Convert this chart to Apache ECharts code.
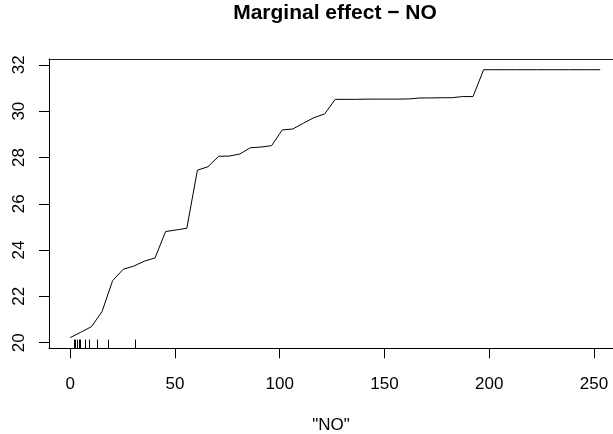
<!DOCTYPE html>
<html>
<head>
<meta charset="utf-8">
<script src="https://cdn.jsdelivr.net/npm/echarts@6/dist/echarts.min.js"></script>
<style>
  html, body { margin: 0; padding: 0; background: #fff; }
  #chart { width: 613px; height: 434px; }
</style>
</head>
<body>
<div id="chart"></div>
<script>
// Partial dependence of the response on NO
const noGrid = [0, 5.06, 10.12, 15.18, 20.24, 25.3, 30.36, 35.42, 40.48, 45.54,
  50.6, 55.66, 60.72, 65.78, 70.84, 75.9, 80.96, 86.02, 91.08, 96.14,
  101.2, 106.26, 111.32, 116.38, 121.44, 126.5, 131.56, 136.62, 141.68, 146.74,
  151.8, 156.86, 161.92, 166.98, 172.04, 177.1, 182.16, 187.22, 192.28, 197.34,
  202.4, 207.46, 212.52, 217.58, 222.64, 227.7, 232.76, 237.82, 242.88, 247.94, 253];
const effect = [20.22, 20.45, 20.69, 21.34, 22.68, 23.17, 23.31, 23.52, 23.66, 24.80,
  24.87, 24.94, 27.45, 27.60, 28.05, 28.06, 28.15, 28.42, 28.45, 28.51,
  29.19, 29.23, 29.48, 29.72, 29.88, 30.51, 30.51, 30.51, 30.52, 30.52,
  30.52, 30.52, 30.53, 30.57, 30.57, 30.58, 30.58, 30.63, 30.63, 31.79,
  31.79, 31.79, 31.79, 31.79, 31.79, 31.79, 31.79, 31.79, 31.79, 31.79, 31.79];
// Deciles of NO shown as a rug
const rugValues = [1.67, 2.48, 3.24, 4.01, 4.87, 6.92, 9.06, 12.88, 18.03, 30.87];
const xTicks = [0, 50, 100, 150, 200, 250];
const yTicks = [20, 22, 24, 26, 28, 30, 32];

const FONT = 'Liberation Sans, Arial, Helvetica, sans-serif';

// R-style 4% padding around the data range
function padded(vals) {
  const lo = Math.min(...vals), hi = Math.max(...vals);
  const d = (hi - lo) * 0.04;
  return [lo - d, hi + d];
}
const [xMin] = padded(noGrid);
const [yMin, yMax] = padded(effect);
// the plot region runs past the right edge of the canvas; show up to here
const xVisibleMax = 259.1;

const chart = echarts.init(document.getElementById('chart'), null, { renderer: 'canvas' });

const plainAxis = {
  axisTick: { show: false },
  axisLabel: { show: false },
  splitLine: { show: false }
};

chart.setOption({
  animation: false,
  backgroundColor: '#ffffff',
  graphic: [{
    type: 'text',
    x: 335,
    y: 3,
    style: {
      text: 'Marginal effect \u2212 NO',
      font: 'bold 21px ' + FONT,
      fill: '#000',
      align: 'center'
    }
  }],
  grid: { left: 49, top: 59, right: 0, bottom: 85.7, outerBoundsMode: 'none', containLabel: false },
  xAxis: [{
    type: 'value',
    min: xMin,
    max: xVisibleMax,
    name: '"NO"',
    nameLocation: 'middle',
    nameGap: 69,
    nameTextStyle: { fontFamily: FONT, fontSize: 17, color: '#000' },
    axisLine: { show: true, onZero: false, lineStyle: { color: '#000', width: 1 } },
    axisTick: { show: true, length: 10, customValues: xTicks, lineStyle: { color: '#000' } },
    axisLabel: { customValues: xTicks, margin: 28, fontFamily: FONT, fontSize: 17, color: '#000' },
    splitLine: { show: false }
  }, Object.assign({
    type: 'value',
    position: 'top',
    min: xMin,
    max: xVisibleMax,
    axisLine: { show: true, onZero: false, lineStyle: { color: '#222', width: 1 } }
  }, plainAxis)],
  yAxis: {
    type: 'value',
    min: yMin,
    max: yMax,
    axisLine: { show: true, onZero: false, lineStyle: { color: '#000', width: 1 } },
    axisTick: { show: true, length: 10, customValues: yTicks, lineStyle: { color: '#000' } },
    axisLabel: { customValues: yTicks, rotate: 90, margin: 21, fontFamily: FONT, fontSize: 17, color: '#000' },
    splitLine: { show: false }
  },
  series: [
    {
      type: 'line',
      data: noGrid.map((x, i) => [x, effect[i]]),
      symbol: 'none',
      lineStyle: { color: '#000', width: 1 },
      silent: true
    },
    {
      type: 'custom',
      data: rugValues.map(v => [v]),
      silent: true,
      renderItem: function (params, api) {
        const p = api.coord([api.value(0), yMin]);
        return {
          type: 'line',
          shape: { x1: Math.round(p[0]) + 0.5, y1: p[1], x2: Math.round(p[0]) + 0.5, y2: p[1] - 8.7 },
          style: { stroke: '#000', lineWidth: 1 }
        };
      }
    }
  ]
});
</script>
</body>
</html>
